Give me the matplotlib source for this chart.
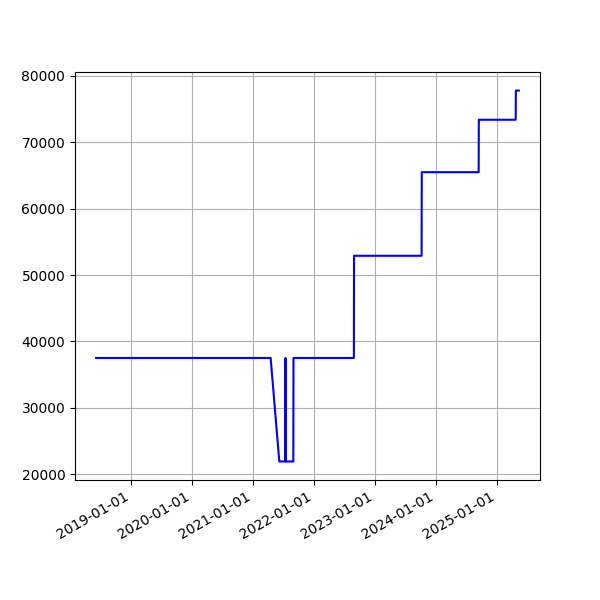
import matplotlib
matplotlib.use("Agg")
import matplotlib.pyplot as plt
import matplotlib.dates as mdates
import pandas as pd

dates = ["2018-06-05", "2021-04-16", "2021-06-07", "2021-07-13", "2021-07-14",
         "2021-07-15", "2021-08-30", "2021-08-31", "2022-08-28", "2022-08-29",
         "2023-10-08", "2023-10-09", "2024-09-14", "2024-09-15", "2025-04-24",
         "2025-04-25", "2025-05-13"]
values = [37500, 37500, 21900, 21900, 37500, 21900, 21900, 37500, 37500, 52900,
          52900, 65500, 65500, 73400, 73400, 77800, 77800]

x = pd.to_datetime(dates)

fig, ax = plt.subplots(figsize=(6, 6), dpi=100)
ax.plot(x, values, color="blue")
ax.xaxis.set_major_locator(mdates.YearLocator())
ax.xaxis.set_major_formatter(mdates.DateFormatter("%Y-%m-%d"))
ax.grid(True)
fig.autofmt_xdate()
fig.savefig("out.png", dpi=100)
